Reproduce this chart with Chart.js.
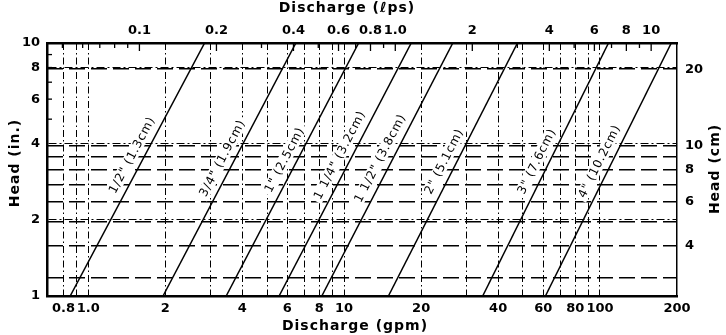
<!DOCTYPE html>
<html><head><meta charset="utf-8">
<script src="https://cdn.jsdelivr.net/npm/chart.js@4"></script>
<style>html,body{margin:0;padding:0;background:#fff;}canvas{display:block;}</style>
</head><body>
<canvas id="c" width="726" height="335"></canvas>
<script>
// ---------- data ----------
const pipeSizes = ['1/2" (1.3cm)', '3/4" (1.9cm)', '1" (2.5cm)', '1 1/4" (3.2cm)', '1 1/2" (3.8cm)', '2" (5.1cm)', '3" (7.6cm)', '4" (10.2cm)'];
const headPoints = [1, 10];                                        // head (in.)
const dischargeAtHead1 = [0.85, 1.96, 3.46, 5.57, 8.18, 14.9, 34.8, 61.2];   // gpm at 1 in.
const dischargeAtHead10 = [2.85, 6.48, 11.4, 18.3, 26.6, 47.6, 108, 190];    // gpm at 10 in.

const gpmTickValues = [0.8, 1, 2, 4, 6, 8, 10, 20, 40, 60, 80, 100, 200];
const gpmTickLabels = ['0.8', '1.0', '2', '4', '6', '8', '10', '20', '40', '60', '80', '100', '200'];
const gpmGridValues = [0.8, 0.9, 1, 2, 3, 4, 5, 6, 7, 8, 9, 10, 20, 30, 40, 50, 60, 70, 80, 90, 100];

const lpsTickValues = [0.1, 0.2, 0.4, 0.6, 0.8, 1, 2, 4, 6, 8, 10];
const lpsTickLabels = ['0.1', '0.2', '0.4', '0.6', '0.8', '1.0', '2', '4', '6', '8', '10'];
const lpsMinorTicks = [0.05, 0.06, 0.07, 0.08, 0.09, 0.1, 0.2, 0.3, 0.4, 0.5, 0.6, 0.7, 0.8, 0.9, 1, 2, 3, 4, 5, 6, 7, 8, 9, 10];

const headInTickValues = [1, 2, 4, 6, 8, 10];
const headInTickLabels = ['1', '2', '4', '6', '8', '10'];
const headInGridValues = [2, 4, 8];
const headInMinorTicks = [5, 6, 7, 8, 9];

const headCmTickValues = [4, 6, 8, 10, 20];
const headCmTickLabels = ['4', '6', '8', '10', '20'];
const headCmGridValues = [3, 4, 5, 6, 7, 8, 9, 10, 20];

const GPM_TO_LPS = 0.06309;
const IN_TO_CM = 2.54;
const X_MIN = 0.69, X_MAX = 200, Y_MIN = 1, Y_MAX = 10;

// ---------- helpers ----------
const same = (a, b) => Math.abs(a - b) / Math.abs(b) < 1e-6;
const inList = (list, v) => list.some(t => same(t, v));
const labelFor = (vals, labs) => v => { const i = vals.findIndex(t => same(t, v)); return i >= 0 ? labs[i] : ''; };
const tickList = (...lists) => [...new Set([].concat(...lists))].sort((p, q) => p - q).map(v => ({ value: v }));

const FONT = '"DejaVu Sans", "Liberation Sans", sans-serif';
const tickFont = { family: FONT, size: 13, weight: 'bold' };
const gridColor = list => ctx => (ctx.tick && inList(list, ctx.tick.value)) ? '#000' : 'rgba(0,0,0,0)';

const datasets = pipeSizes.map((name, i) => ({
  label: name,
  data: [{ x: dischargeAtHead1[i], y: headPoints[0] }, { x: dischargeAtHead10[i], y: headPoints[1] }],
  borderColor: '#000', borderWidth: 1.5, pointRadius: 0, fill: false, tension: 0,
  xAxisID: 'x', yAxisID: 'y'
}));

// ---------- decorations plugin ----------
const labelHeads = [3.6, 3.5, 3.45, 3.6, 3.5, 3.4, 3.4, 3.4];
const decor = {
  id: 'decor',
  afterDraw(chart) {
    const { ctx, chartArea: a, scales } = chart;
    const xs = scales.x, ys = scales.y, x2 = scales.x2;
    ctx.save();
    ctx.strokeStyle = '#000'; ctx.lineWidth = 1.3; ctx.setLineDash([]);
    lpsMinorTicks.forEach(v => {
      const px = x2.getPixelForValue(v);
      if (px < a.left || px > a.right) return;
      const len = inList(lpsTickValues, v) ? 8 : 5;
      ctx.beginPath(); ctx.moveTo(px, a.top); ctx.lineTo(px, a.top + len); ctx.stroke();
    });
    headInMinorTicks.forEach(v => {
      const py = ys.getPixelForValue(v);
      ctx.beginPath(); ctx.moveTo(a.left, py); ctx.lineTo(a.left + 5, py); ctx.stroke();
    });
    ctx.font = '12px ' + FONT;
    try { ctx.letterSpacing = '0.8px'; } catch (e) {}
    ctx.textAlign = 'center'; ctx.textBaseline = 'middle';
    chart.data.datasets.forEach((ds, i) => {
      const p1 = { x: xs.getPixelForValue(ds.data[0].x), y: ys.getPixelForValue(ds.data[0].y) };
      const p2 = { x: xs.getPixelForValue(ds.data[1].x), y: ys.getPixelForValue(ds.data[1].y) };
      const ang = Math.atan2(p2.y - p1.y, p2.x - p1.x);
      const py = ys.getPixelForValue(labelHeads[i]);
      const px = p1.x + (py - p1.y) * (p2.x - p1.x) / (p2.y - p1.y);
      ctx.save();
      ctx.translate(px - 12.5, py);
      ctx.rotate(ang);
      const w = ctx.measureText(ds.label).width;
      ctx.fillStyle = '#fff';
      ctx.fillRect(-w / 2 - 3, -7, w + 6, 13);
      ctx.fillStyle = '#000';
      ctx.fillText(ds.label, 0, 0);
      ctx.restore();
    });
    ctx.fillStyle = '#000';
    ctx.font = 'bold 14px ' + FONT;
    try { ctx.letterSpacing = '1px'; } catch (e) {}
    ctx.fillText('Discharge (\u2113ps)', 347, 8);
    ctx.fillText('Discharge (gpm)', 355, 326);
    ctx.save(); ctx.translate(15, 163); ctx.rotate(-Math.PI / 2); ctx.fillText('Head (in.)', 0, 0); ctx.restore();
    ctx.save(); ctx.translate(715, 169); ctx.rotate(-Math.PI / 2); ctx.fillText('Head (cm)', 0, 0); ctx.restore();
    ctx.restore();
  }
};

new Chart(document.getElementById('c'), {
  type: 'line',
  data: { datasets },
  options: {
    responsive: false, animation: false, devicePixelRatio: 1,
    layout: { padding: 0 },
    plugins: { legend: { display: false }, tooltip: { enabled: false } },
    scales: {
      x: {
        type: 'logarithmic', position: 'bottom', min: X_MIN, max: X_MAX,
        afterBuildTicks: s => { s.ticks = tickList(gpmTickValues, gpmGridValues); },
        afterFit: s => { s.height = 39; },
        ticks: { autoSkip: false, maxRotation: 0, minRotation: 0, padding: 5, color: '#000', font: tickFont, callback: labelFor(gpmTickValues, gpmTickLabels) },
        grid: { color: gridColor(gpmGridValues), lineWidth: 1, drawTicks: false },
        border: { display: true, color: '#000', width: 2.5, dash: [7, 3, 1.5, 3] }
      },
      x2: {
        type: 'logarithmic', position: 'top', min: X_MIN * GPM_TO_LPS, max: X_MAX * GPM_TO_LPS,
        afterBuildTicks: s => { s.ticks = tickList(lpsTickValues); },
        afterFit: s => { s.height = 43; },
        ticks: { autoSkip: false, maxRotation: 0, minRotation: 0, padding: 5, color: '#000', font: tickFont, callback: labelFor(lpsTickValues, lpsTickLabels) },
        grid: { drawOnChartArea: false, drawTicks: false },
        border: { display: true, color: '#000', width: 2.5 }
      },
      y: {
        type: 'logarithmic', position: 'left', min: Y_MIN, max: Y_MAX,
        afterBuildTicks: s => { s.ticks = tickList(headInTickValues, headInGridValues); },
        afterFit: s => { s.width = 47; },
        ticks: { autoSkip: false, padding: 7, color: '#000', font: tickFont, callback: labelFor(headInTickValues, headInTickLabels) },
        grid: { color: gridColor(headInGridValues), lineWidth: 1, drawTicks: false },
        border: { display: true, color: '#000', width: 2.5, dash: [8, 3, 2, 3] }
      },
      y2: {
        type: 'logarithmic', position: 'right', min: Y_MIN * IN_TO_CM, max: Y_MAX * IN_TO_CM,
        afterBuildTicks: s => { s.ticks = tickList(headCmTickValues, headCmGridValues); },
        afterFit: s => { s.width = 49; },
        ticks: { autoSkip: false, padding: 8, color: '#000', font: tickFont, callback: labelFor(headCmTickValues, headCmTickLabels) },
        grid: { color: gridColor(headCmGridValues), lineWidth: 1.6, drawTicks: false },
        border: { display: true, color: '#000', width: 1.5, dash: [16, 6] }
      }
    }
  },
  plugins: [decor]
});
</script>
</body></html>
